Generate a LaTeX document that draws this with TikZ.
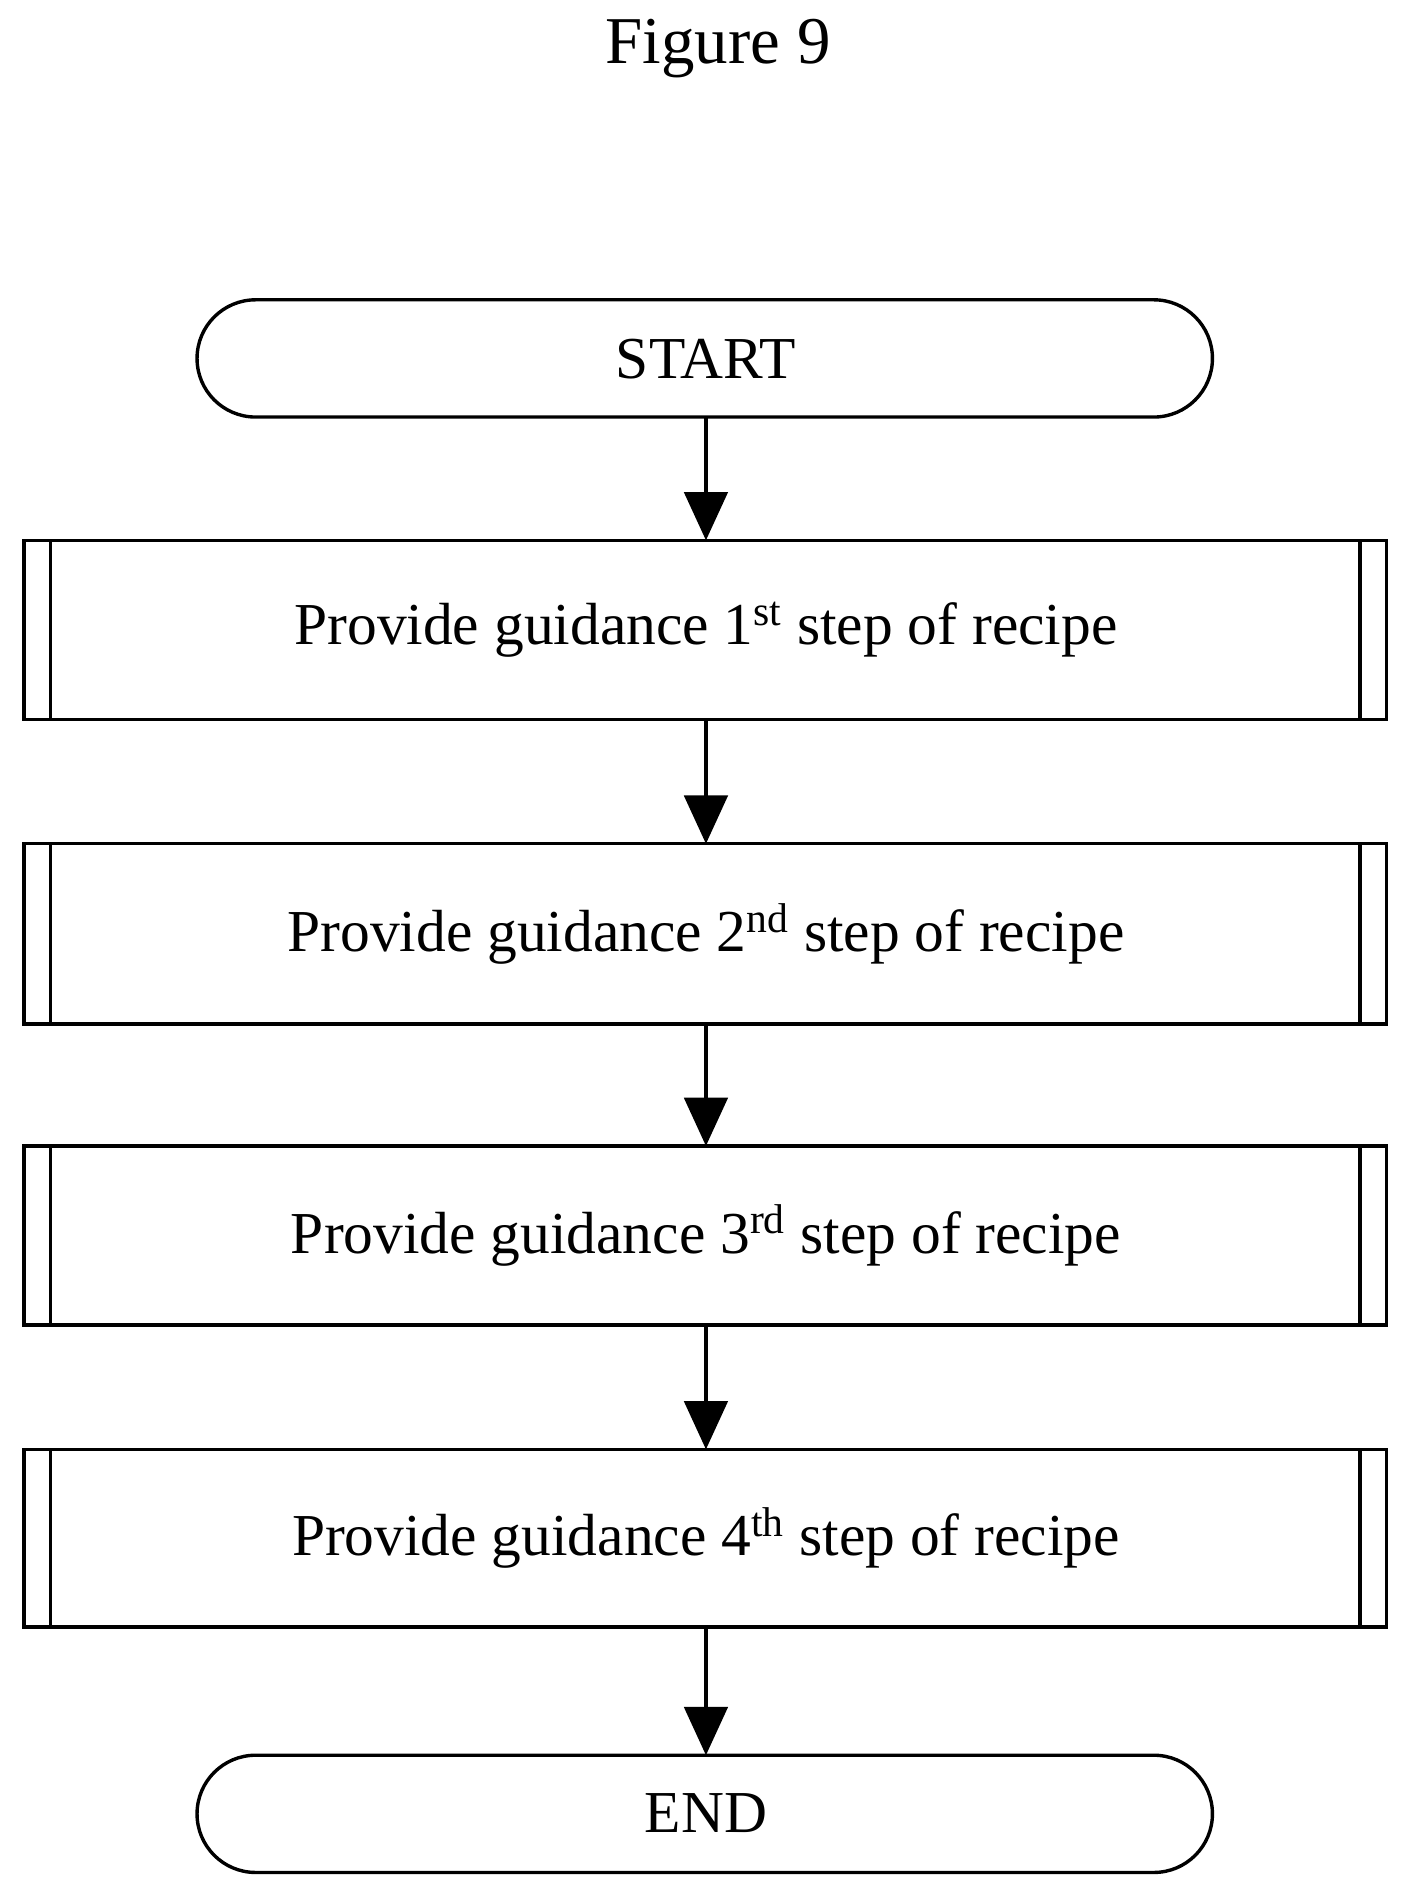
\documentclass[tikz,border=0pt]{standalone}
\usepackage{fontspec}
\setmainfont{Liberation Serif}
\usetikzlibrary{arrows.meta}
\begin{document}
\begin{tikzpicture}[x=0.02cm,y=-0.02cm,
  lw/.style={line width=1.6pt},
  term/.style={lw,rounded corners=0.97cm},
  txt/.style={font=\fontsize{28}{32}\selectfont},
  arr/.style={lw,-{Triangle[length=0.8cm,width=0.72cm]}}]
\useasboundingbox (0,0) rectangle (1165,1566);
\node[font=\fontsize{31.5}{36}\selectfont] (title) at (594,40) {Figure 9};
% terminators
\draw[term] (163,248) rectangle (1003,345);
\node[txt] (start) at (584,297) {START};
\draw[term] (163,1452) rectangle (1003,1549);
\node[txt] (end) at (584,1500) {END};
% process boxes
\foreach \i/\t/\b/\s in {1/447/595/st,2/698/847/nd,3/948/1096/rd,4/1199/1346/th}{
  \draw[lw] (20,\t) rectangle (1147,\b);
  \draw[lw] (42,\t) -- (42,\b);
  \draw[lw] (1125,\t) -- (1125,\b);
  \coordinate (t\i) at (584,\t);
  \coordinate (b\i) at (584,\b);
  \node[txt] (p\i) at (584,{(\t+\b)/2}) {Provide guidance \i\textsuperscript{\s} step of recipe};
}
\coordinate (s0) at (584,345);
\coordinate (e0) at (584,1452);
\draw[arr] (s0) -- (t1);
\draw[arr] (b1) -- (t2);
\draw[arr] (b2) -- (t3);
\draw[arr] (b3) -- (t4);
\draw[arr] (b4) -- (e0);
\end{tikzpicture}
\end{document}
